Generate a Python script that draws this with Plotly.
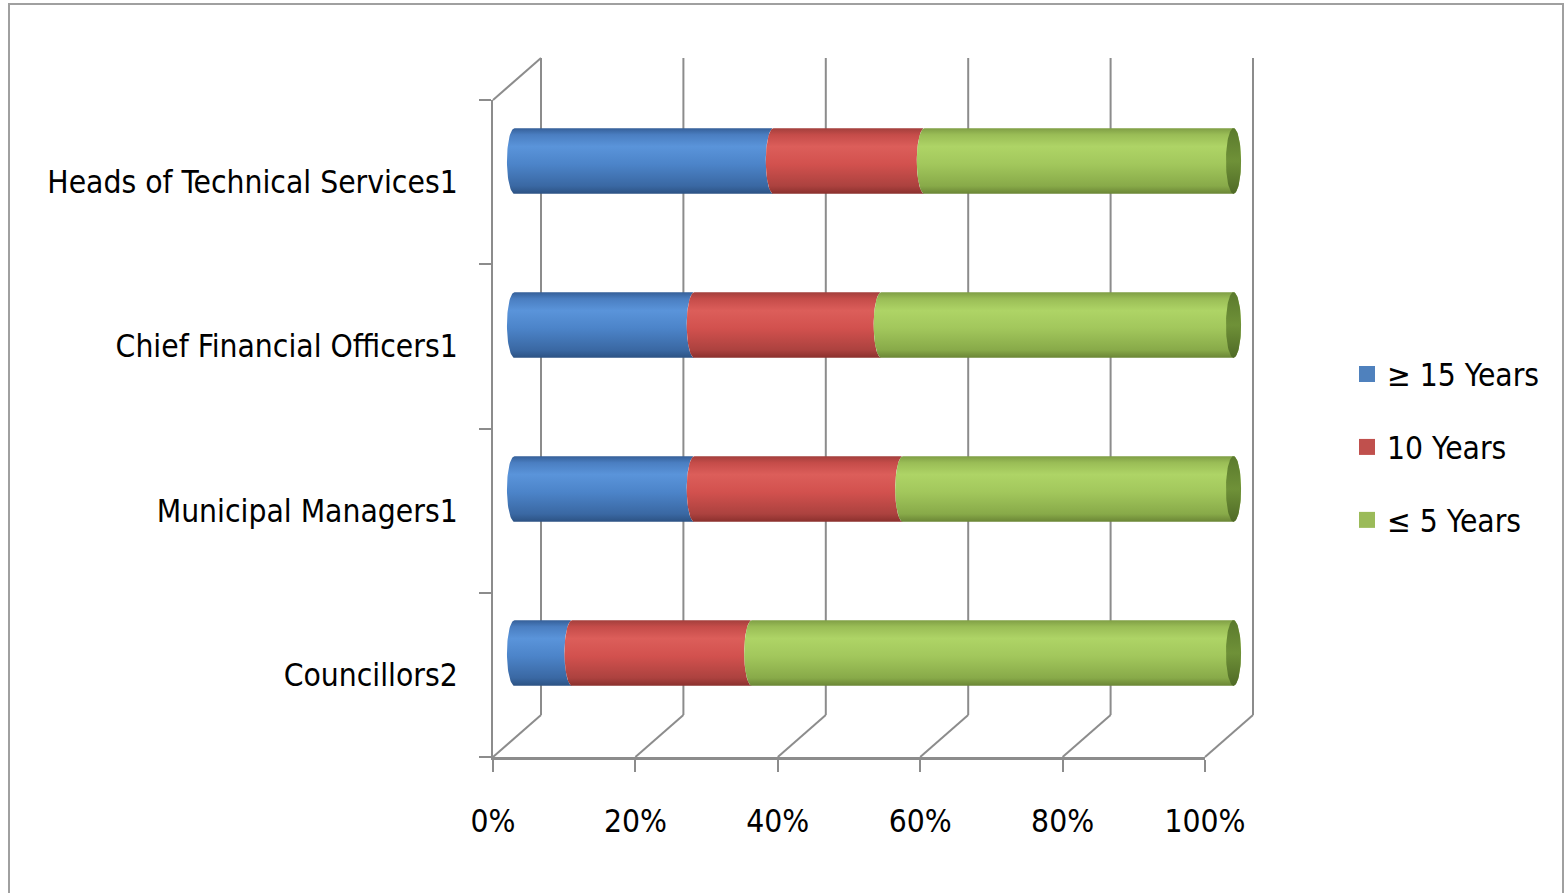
import numpy as np
import plotly.graph_objects as go

# ---------------- data ----------------
categories = ["Councillors2", "Municipal Managers1", "Chief Financial Officers1", "Heads of Technical Services1"]
series_names = ["\u2265 15 Years", "10 Years", "\u2264 5 Years"]
ge15_years = [8, 25, 25, 36]
ten_years = [25, 29, 26, 21]
le5_years = [67, 46, 49, 43]
x_tickvals = [0, 20, 40, 60, 80, 100]
x_ticktext = ["0%", "20%", "40%", "60%", "80%", "100%"]

# ---------------- style ----------------
W, H = 1565, 893
FONT = "DejaVu Sans Condensed, Liberation Sans Narrow, Roboto Condensed, Roboto, sans-serif"
FSIZE = 31.5
FRAME = "#8C8C8C"
legend_colors = ["#4F81BD", "#C0504D", "#9BBB59"]
gradients = [
    [[0, "#2C5283"], [0.12, "#3A68A3"], [0.45, "#4C84C9"], [0.72, "#5A94DA"], [0.9, "#4A7EC1"], [1, "#355F98"]],
    [[0, "#8A302D"], [0.12, "#AC423F"], [0.45, "#D2514E"], [0.72, "#DC5E5A"], [0.9, "#C54C49"], [1, "#A23F3C"]],
    [[0, "#6A8535"], [0.12, "#88AA49"], [0.45, "#A2C75C"], [0.72, "#AED466"], [0.9, "#9ABD56"], [1, "#7F9E45"]],
]
cap_gradient = [[0, "#4F6A26"], [0.5, "#6F9138"], [1, "#5B7A2D"]]
RX = 1.05     # cylinder cap half-width (axis units)
HH = 0.2      # cylinder half-height (category units)


def px(x):
    return x / W


def py(y):
    return 1 - y / H


def arc(xc, yc, t0, t1, n=40):
    t = np.linspace(np.radians(t0), np.radians(t1), n)
    return xc + RX * np.cos(t), yc + HH * np.sin(t)


fig = go.Figure()

series = [ge15_years, ten_years, le5_years]
for i, cat in enumerate(categories):
    y0 = i
    start = 0.0
    for s, vals in enumerate(series):
        a = start
        b = start + vals[i]
        start = b
        lx, ly = arc(a, y0, 90, 270)              # left boundary, top -> bottom
        if s == len(series) - 1:
            rx_, ry_ = arc(b, y0, -90, 90)          # convex right end
        else:
            rx_, ry_ = arc(b, y0, 270, 90)          # concave (next segment covers)
        xs = np.concatenate([lx, rx_, lx[:1]])
        ys = np.concatenate([ly, ry_, ly[:1]])
        fig.add_trace(go.Scatter(
            x=xs, y=ys, mode="lines", line=dict(width=0), fill="toself",
            fillgradient=dict(type="vertical", colorscale=gradients[s], start=y0 - HH, stop=y0 + HH),
            hoverinfo="skip", showlegend=False, xaxis="x", yaxis="y"))
    # visible end cap of the cylinder
    cx, cy = arc(start, y0, 0, 360, 80)
    fig.add_trace(go.Scatter(
        x=cx, y=cy, mode="lines", line=dict(width=0), fill="toself",
        fillgradient=dict(type="vertical", colorscale=cap_gradient, start=y0 - HH, stop=y0 + HH),
        hoverinfo="skip", showlegend=False, xaxis="x", yaxis="y"))

# legend entries
for name, col in zip(series_names, legend_colors):
    fig.add_trace(go.Scatter(x=[None], y=[None], mode="markers", name=name, legendgroup=name,
                             marker=dict(symbol="square", size=18, color=col), xaxis="x", yaxis="y"))

# invisible trace to create the front-plane axes subplot
fig.add_trace(go.Scatter(x=[0, 100], y=[-0.5, 3.5], mode="markers", marker=dict(opacity=0),
                         hoverinfo="skip", showlegend=False, xaxis="x2", yaxis="y2"))

# ---------------- 3D frame (walls) ----------------
FX0, FX1, FLOOR, TOP = 493, 1205, 757, 100
DX, DY = 48, 42
shapes = []
line = dict(color=FRAME, width=2)
for v in x_tickvals:
    xf = FX0 + (FX1 - FX0) * v / 100
    shapes.append(dict(type="line", xref="paper", yref="paper", layer="below",
                       x0=px(xf), y0=py(FLOOR), x1=px(xf + DX), y1=py(FLOOR - DY), line=line))
    shapes.append(dict(type="line", xref="paper", yref="paper", layer="below",
                       x0=px(xf + DX), y0=py(FLOOR - DY), x1=px(xf + DX), y1=py(TOP - DY), line=line))
shapes.append(dict(type="line", xref="paper", yref="paper", layer="below",
                   x0=px(FX0), y0=py(TOP), x1=px(FX0 + DX), y1=py(TOP - DY), line=line))
# outer chart border
shapes.append(dict(type="rect", xref="paper", yref="paper", layer="below",
                   x0=px(9), y0=py(4), x1=px(1563), y1=py(905), line=dict(color="#A0A0A0", width=2)))

fig.update_layout(
    width=W, height=H, autosize=False,
    margin=dict(l=0, r=0, t=0, b=0, autoexpand=False),
    paper_bgcolor="white", plot_bgcolor="rgba(0,0,0,0)",
    font=dict(family=FONT, size=FSIZE, color="black"),
    shapes=shapes,
    showlegend=True,
    legend=dict(x=px(1347), y=py(347), xanchor="left", yanchor="top",
                font=dict(family=FONT, size=FSIZE, color="black"),
                tracegroupgap=29, bgcolor="rgba(0,0,0,0)", itemclick=False),
    xaxis=dict(domain=[px(514.5 - 3 * 7.19), px(1233.5 + 3 * 7.19)], range=[-3, 103],
               visible=False, anchor="y", fixedrange=True, automargin=False),
    yaxis=dict(domain=[py(735), py(79)], range=[-0.5, 3.5], visible=False, anchor="x",
               fixedrange=True, automargin=False),
    xaxis2=dict(domain=[px(FX0), px(FX1)], range=[0, 100], anchor="y2", automargin=False,
                tickmode="array", tickvals=x_tickvals, ticktext=x_ticktext,
                ticks="outside", ticklen=12, tickwidth=2, tickcolor=FRAME,
                showline=True, linecolor=FRAME, linewidth=3,
                showgrid=False, zeroline=False, ticklabelstandoff=22,
                tickfont=dict(family=FONT, size=FSIZE, color="black")),
    yaxis2=dict(domain=[py(FLOOR), py(TOP)], range=[-0.5, 3.5], anchor="x2", automargin=False,
                tickmode="array", tickvals=[0, 1, 2, 3], ticktext=categories,
                ticks="", showline=True, linecolor=FRAME, linewidth=2,
                showgrid=False, zeroline=False, ticklabelstandoff=27,
                minor=dict(tickmode="array", tickvals=[-0.5, 0.5, 1.5, 2.5, 3.5], ticks="outside",
                           ticklen=12, tickwidth=2, tickcolor=FRAME, showgrid=False),
                tickfont=dict(family=FONT, size=FSIZE, color="black")),
)

fig.write_html("out.html")
